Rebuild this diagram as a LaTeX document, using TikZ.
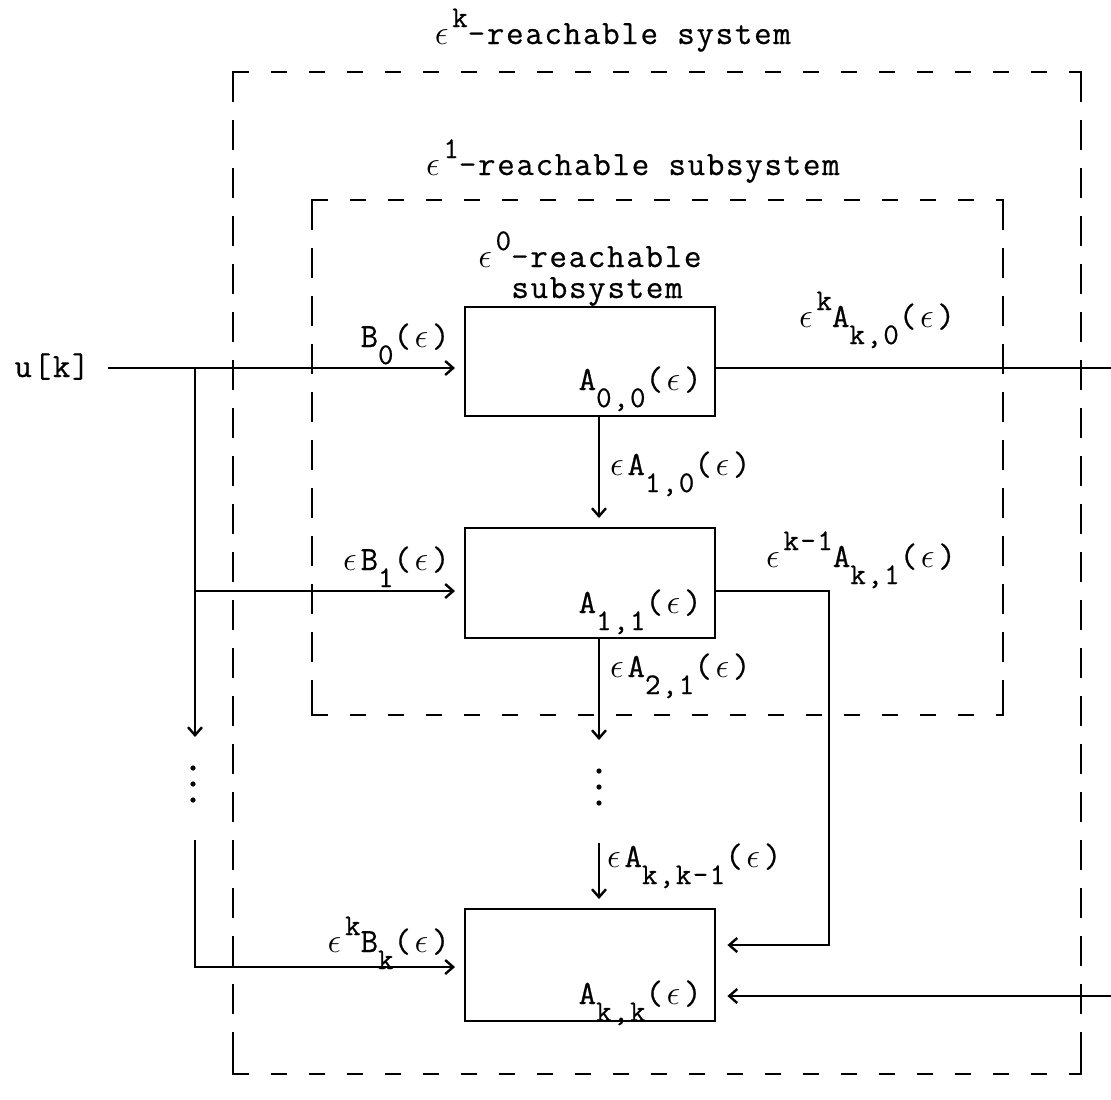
\documentclass[tikz,border=0pt]{standalone}
\usepackage{fontspec}
\setmonofont[LetterSpace=5, FakeBold=0.6]{Latin Modern Mono}
\usetikzlibrary{arrows.meta}
\newcommand\eps{\makebox[0.62em]{\fontsize{19}{19}\selectfont$\epsilon$}}
\newcommand\subx[1]{\raisebox{-0.5em}{\fontsize{15}{15}\selectfont#1}}
\newcommand\supx[1]{\raisebox{0.5em}{\fontsize{15}{15}\selectfont#1}}
\begin{document}
\begin{tikzpicture}[x=0.5pt,y=-0.5pt,
  every node/.style={inner sep=0pt, font=\ttfamily\fontsize{17}{20}\selectfont},
  blk/.style={draw, line width=1.2pt, minimum width=125pt, anchor=north west},
  wire/.style={line width=1.2pt},
  arr/.style={wire, -{Straight Barb[length=4pt,width=7pt]}, shorten >=4.5pt},
  hdash/.style={line width=1.3pt, dash pattern=on 8pt off 11pt},
  vdash/.style={line width=1.3pt, dash pattern=on 15pt off 9pt},
  corner/.style={line width=1.3pt}
]
\useasboundingbox (0,0) rectangle (1111,1099);

% dashed frames
\draw[hdash] (233,72) -- (1081,72);
\draw[hdash] (233,1074) -- (1081,1074);
\draw[vdash] (233,72) -- (233,1074);
\draw[vdash] (1081,72) -- (1081,1074);
\draw[corner] (240,72) -- (233,72) -- (233,92);
\draw[corner] (1074,72) -- (1081,72) -- (1081,92);
\draw[corner] (240,1074) -- (233,1074) -- (233,1054);
\draw[corner] (1074,1074) -- (1081,1074) -- (1081,1054);

\draw[hdash] (312,200) -- (1003,200);
\draw[hdash] (312,715) -- (1003,715);
\draw[vdash] (312,200) -- (312,715);
\draw[vdash] (1003,200) -- (1003,715);
\draw[corner] (319,200) -- (312,200) -- (312,220);
\draw[corner] (996,200) -- (1003,200) -- (1003,220);
\draw[corner] (319,715) -- (312,715) -- (312,695);
\draw[corner] (996,715) -- (1003,715) -- (1003,695);

% titles
\node[anchor=base] (t2) at (611,44) {\eps\supx{k}-reachable system};
\node[anchor=base] (t1) at (631,175) {\eps\supx{1}-reachable subsystem};
\node[anchor=base] (t0a) at (588,267) {\eps\supx{0}-reachable};
\node[anchor=base] (t0b) at (597,298) {subsystem};

% blocks
\node[blk, minimum height=54.5pt] (a00) at (464,306) {};
\node[blk, minimum height=55pt] (a11) at (464,527) {};
\node[blk, minimum height=56pt] (akk) at (464,908) {};
\node[anchor=base east] (l00) at (702,390) {A\subx{0,0}(\eps)};
\node[anchor=base east] (l11) at (702,613) {A\subx{1,1}(\eps)};
\node[anchor=base east] (lkk) at (702,1004) {A\subx{k,k}(\eps)};

% input
\node[anchor=base east] (u) at (90,377) {u[k]};
\coordinate (uin) at (108,368);
\coordinate (j0) at (195,368);
\coordinate (j1) at (195,591);
\coordinate (lend) at (195,737);
\coordinate (lres) at (195,840);
\coordinate (j2) at (195,967);
\draw[arr] (uin) -- (uin -| a00.west);
\draw[arr, shorten >=0pt] (j0) -- (lend);
\draw[arr] (j1) -- (j1 -| a11.west);
\draw[arr] (lres) -- (j2) -- (j2 -| akk.west);
\foreach \yy in {768,784,800} \fill (193,\yy) circle (1.3pt);

\node[anchor=base east] (b0) at (450,347) {B\subx{0}(\eps)};
\node[anchor=base east] (b1) at (450,570) {\eps B\subx{1}(\eps)};
\node[anchor=base east] (bk) at (450,952) {\eps\supx{k}B\subx{k}(\eps)};

% vertical chain
\coordinate (c0) at (599,0);
\coordinate (d1) at (599,740);
\coordinate (d2) at (599,843);
\draw[arr] (a00.south -| c0) -- (a11.north -| c0);
\draw[arr, shorten >=0pt] (a11.south -| c0) -- (d1);
\draw[arr] (d2) -- (akk.north -| c0);
\foreach \yy in {771,787,803} \fill (599,\yy) circle (1.3pt);
\node[anchor=base west] (e10) at (606,475) {\eps A\subx{1,0}(\eps)};
\node[anchor=base west] (e21) at (606,677) {\eps A\subx{2,1}(\eps)};
\node[anchor=base west] (ekk) at (603,867) {\eps A\subx{k,k-1}(\eps)};

% right side connectors
\coordinate (rout) at (1111,368);
\draw[wire] (uin -| a00.east) -- (rout);
\node[anchor=base west] (ek0) at (795,327) {\eps\supx{k}A\subx{k,0}(\eps)};
\coordinate (f1) at (829,591);
\coordinate (f2) at (829,945);
\draw[arr, shorten >=5.5pt] (j1 -| a11.east) -- (f1) -- (f2) -- (f2 -| akk.east);
\node[anchor=base west] (ek1) at (762,567) {\eps\supx{k-1}A\subx{k,1}(\eps)};
\coordinate (rin) at (1111,996);
\draw[arr, shorten >=5.5pt] (rin) -- (rin -| akk.east);
\end{tikzpicture}
\end{document}
